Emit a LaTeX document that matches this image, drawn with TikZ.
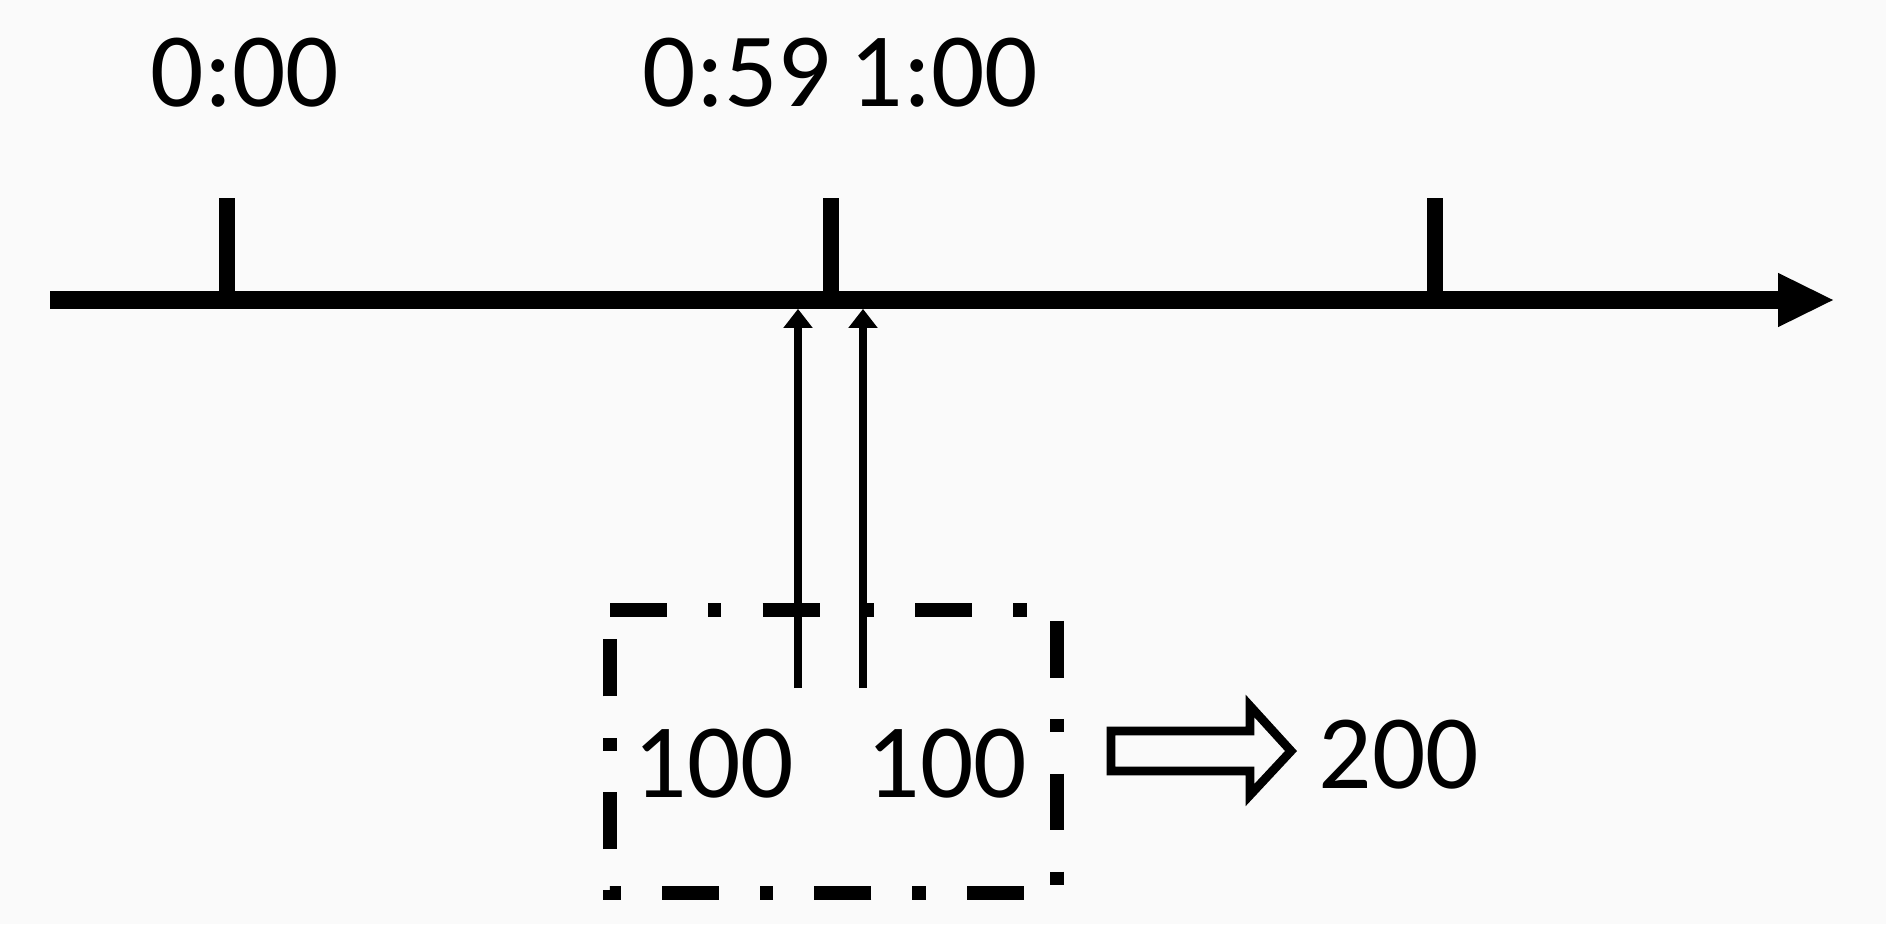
\documentclass[tikz,border=0pt]{standalone}
\usepackage{fontspec}
\setmainfont{Carlito}
\usetikzlibrary{arrows.meta}
\begin{document}
\begin{tikzpicture}[x=0.01cm, y=-0.01cm,
  texte/.style={anchor=base, inner sep=0pt, font=\fontsize{30}{36}\selectfont},
  axe/.style={line width=5pt, -{Triangle[length=15.6pt, width=15.4pt, line width=0pt]}},
  graduation/.style={line width=4.8pt},
  fleche/.style={line width=2.4pt, -{Triangle[length=5.4pt, width=8.4pt, line width=0pt]}},
  cadre/.style={line width=3.8pt, dash pattern=on 16.2pt off 11.7pt on 3.8pt off 11.7pt},
  creuse/.style={line width=2.5pt, line join=miter}]
\fill[black!2] (0,0) rectangle (1886,924);
\useasboundingbox (0,0) rectangle (1886,924);
% Axe du temps
\coordinate (debut) at (50,300);
\coordinate (fin) at (1833,300);
\draw[axe] (debut) -- (fin);
\draw[graduation] (227,198) -- (227,300);
\draw[graduation] (831,198) -- (831,300);
\draw[graduation] (1435,198) -- (1435,300);
\node[texte] (t000) at (245,106) {0:00};
\node[texte] (t059) at (737,106) {0:59};
\node[texte] (t100) at (944,106) {1:00};
% Cadre
\draw[cadre] (610,610) -- (1057,610) -- (1057,893) -- (610,893) -- cycle;
\node[texte] (v1) at (714,797) {100};
\node[texte] (v2) at (947,797) {100};
\coordinate (d1) at (798,688);
\coordinate (f1) at (798,309);
\coordinate (d2) at (863,688);
\coordinate (f2) at (863,309);
\draw[fleche] (d1) -- (f1);
\draw[fleche] (d2) -- (f2);
% Resultat
\draw[creuse] (1111,731) -- (1250,731) -- (1250,706) -- (1291,751) -- (1250,795) -- (1250,771) -- (1111,771) -- cycle;
\node[texte] (tot) at (1399,788) {200};
\end{tikzpicture}
\end{document}
